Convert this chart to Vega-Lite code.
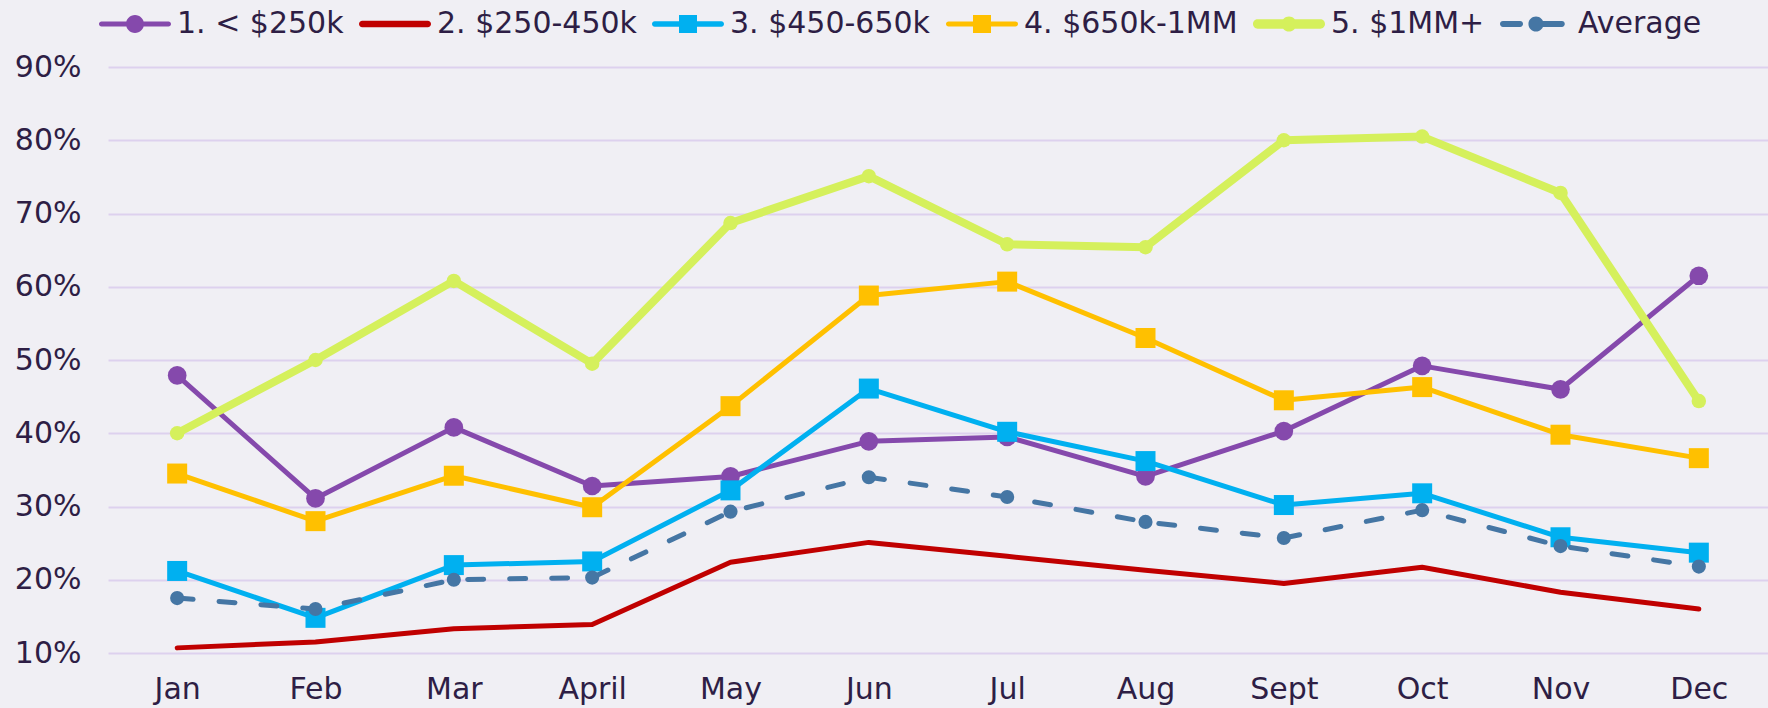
{
  "$schema": "https://vega.github.io/schema/vega-lite/v6.json",
  "autosize": "none",
  "width": 1660,
  "height": 586,
  "padding": {"left": 108, "top": 67, "right": 0, "bottom": 55},
  "background": "#f0eff4",
  "data": {"values": [
    {"m":"Jan","s":"1. < $250k","v":0.479},{"m":"Feb","s":"1. < $250k","v":0.311},{"m":"Mar","s":"1. < $250k","v":0.408},{"m":"April","s":"1. < $250k","v":0.328},{"m":"May","s":"1. < $250k","v":0.341},{"m":"Jun","s":"1. < $250k","v":0.389},{"m":"Jul","s":"1. < $250k","v":0.395},{"m":"Aug","s":"1. < $250k","v":0.341},{"m":"Sept","s":"1. < $250k","v":0.403},{"m":"Oct","s":"1. < $250k","v":0.492},{"m":"Nov","s":"1. < $250k","v":0.460},{"m":"Dec","s":"1. < $250k","v":0.615},
    {"m":"Jan","s":"2. $250-450k","v":0.107},{"m":"Feb","s":"2. $250-450k","v":0.115},{"m":"Mar","s":"2. $250-450k","v":0.133},{"m":"April","s":"2. $250-450k","v":0.139},{"m":"May","s":"2. $250-450k","v":0.224},{"m":"Jun","s":"2. $250-450k","v":0.251},{"m":"Jul","s":"2. $250-450k","v":0.232},{"m":"Aug","s":"2. $250-450k","v":0.213},{"m":"Sept","s":"2. $250-450k","v":0.195},{"m":"Oct","s":"2. $250-450k","v":0.217},{"m":"Nov","s":"2. $250-450k","v":0.183},{"m":"Dec","s":"2. $250-450k","v":0.160},
    {"m":"Jan","s":"3. $450-650k","v":0.212},{"m":"Feb","s":"3. $450-650k","v":0.148},{"m":"Mar","s":"3. $450-650k","v":0.220},{"m":"April","s":"3. $450-650k","v":0.225},{"m":"May","s":"3. $450-650k","v":0.322},{"m":"Jun","s":"3. $450-650k","v":0.461},{"m":"Jul","s":"3. $450-650k","v":0.402},{"m":"Aug","s":"3. $450-650k","v":0.362},{"m":"Sept","s":"3. $450-650k","v":0.302},{"m":"Oct","s":"3. $450-650k","v":0.318},{"m":"Nov","s":"3. $450-650k","v":0.258},{"m":"Dec","s":"3. $450-650k","v":0.237},
    {"m":"Jan","s":"4. $650k-1MM","v":0.345},{"m":"Feb","s":"4. $650k-1MM","v":0.280},{"m":"Mar","s":"4. $650k-1MM","v":0.342},{"m":"April","s":"4. $650k-1MM","v":0.299},{"m":"May","s":"4. $650k-1MM","v":0.437},{"m":"Jun","s":"4. $650k-1MM","v":0.588},{"m":"Jul","s":"4. $650k-1MM","v":0.607},{"m":"Aug","s":"4. $650k-1MM","v":0.530},{"m":"Sept","s":"4. $650k-1MM","v":0.445},{"m":"Oct","s":"4. $650k-1MM","v":0.463},{"m":"Nov","s":"4. $650k-1MM","v":0.398},{"m":"Dec","s":"4. $650k-1MM","v":0.366},
    {"m":"Jan","s":"5. $1MM+","v":0.400},{"m":"Feb","s":"5. $1MM+","v":0.500},{"m":"Mar","s":"5. $1MM+","v":0.608},{"m":"April","s":"5. $1MM+","v":0.495},{"m":"May","s":"5. $1MM+","v":0.687},{"m":"Jun","s":"5. $1MM+","v":0.751},{"m":"Jul","s":"5. $1MM+","v":0.658},{"m":"Aug","s":"5. $1MM+","v":0.654},{"m":"Sept","s":"5. $1MM+","v":0.800},{"m":"Oct","s":"5. $1MM+","v":0.805},{"m":"Nov","s":"5. $1MM+","v":0.728},{"m":"Dec","s":"5. $1MM+","v":0.444},
    {"m":"Jan","s":"Average","v":0.175},{"m":"Feb","s":"Average","v":0.160},{"m":"Mar","s":"Average","v":0.200},{"m":"April","s":"Average","v":0.203},{"m":"May","s":"Average","v":0.293},{"m":"Jun","s":"Average","v":0.340},{"m":"Jul","s":"Average","v":0.313},{"m":"Aug","s":"Average","v":0.279},{"m":"Sept","s":"Average","v":0.257},{"m":"Oct","s":"Average","v":0.295},{"m":"Nov","s":"Average","v":0.246},{"m":"Dec","s":"Average","v":0.218}
  ]},
  "encoding": {
    "x": {"field": "m", "type": "nominal", "sort": ["Jan","Feb","Mar","April","May","Jun","Jul","Aug","Sept","Oct","Nov","Dec"],
      "axis": {"title": null, "domain": false, "ticks": false, "grid": false, "labelAngle": 0, "labelFont": "DejaVu Sans", "labelFontSize": 30, "labelColor": "#2e1e45", "labelPadding": 21}},
    "y": {"field": "v", "type": "quantitative", "scale": {"domain": [0.1, 0.9], "nice": false, "zero": false},
      "axis": {"title": null, "domain": false, "ticks": false, "values": [0.1,0.2,0.3,0.4,0.5,0.6,0.7,0.8,0.9], "format": ".0%", "labelFont": "DejaVu Sans", "labelFontSize": 30, "labelColor": "#2e1e45", "labelPadding": 27, "gridColor": "#ddd1ee", "gridWidth": 2}},
    "color": {"field": "s", "type": "nominal",
      "scale": {"domain": ["1. < $250k","2. $250-450k","3. $450-650k","4. $650k-1MM","5. $1MM+","Average"], "range": ["#8549ac","#c00000","#00b0f0","#ffc000","#d5f05c","#4576a4"]},
      "legend": null}
  },
  "layer": [
    {"mark": {"type": "point", "filled": true, "opacity": 0},
     "encoding": {
       "color": {"field": "s", "type": "nominal",
         "scale": {"domain": ["1. < $250k","2. $250-450k","3. $450-650k","4. $650k-1MM","5. $1MM+","Average"], "range": ["#8549ac","#c00000","#00b0f0","#ffc000","#d5f05c","#4576a4"]},
         "legend": {"orient": "none", "legendX": -9, "legendY": -79, "direction": "horizontal", "columns": 6, "title": null, "symbolSize": 5184, "symbolStrokeWidth": 0, "symbolOpacity": 1, "labelFont": "DejaVu Sans", "labelFontSize": 30, "labelColor": "#2e1e45", "labelOffset": 6, "columnPadding": 15, "padding": 0, "labelLimit": 0}},
       "shape": {"field": "s", "type": "nominal",
         "scale": {"domain": ["1. < $250k","2. $250-450k","3. $450-650k","4. $650k-1MM","5. $1MM+","Average"],
           "range": [
             "M-0.93,-0.07H0.93A0.07,0.07,0,0,1,0.93,0.07H-0.93A0.07,0.07,0,0,1,-0.93,-0.07Z M0.25,0A0.25,0.25,0,1,1,-0.25,0A0.25,0.25,0,1,1,0.25,0Z",
             "M-0.91,-0.09H0.91A0.09,0.09,0,0,1,0.91,0.09H-0.91A0.09,0.09,0,0,1,-0.91,-0.09Z",
             "M-0.925,-0.075H0.925A0.075,0.075,0,0,1,0.925,0.075H-0.925A0.075,0.075,0,0,1,-0.925,-0.075Z M-0.25,-0.25H0.25V0.25H-0.25Z",
             "M-0.93,-0.07H0.93A0.07,0.07,0,0,1,0.93,0.07H-0.93A0.07,0.07,0,0,1,-0.93,-0.07Z M-0.25,-0.25H0.25V0.25H-0.25Z",
             "M-0.87,-0.13H0.87A0.13,0.13,0,0,1,0.87,0.13H-0.87A0.13,0.13,0,0,1,-0.87,-0.13Z M0.21,0A0.21,0.21,0,1,1,-0.21,0A0.21,0.21,0,1,1,0.21,0Z",
             "M-0.92,-0.08H-0.44A0.08,0.08,0,0,1,-0.44,0.08H-0.92A0.08,0.08,0,0,1,-0.92,-0.08Z M-0.06,-0.08H0.72A0.08,0.08,0,0,1,0.72,0.08H-0.06Z M0.21,0A0.21,0.21,0,1,1,-0.21,0A0.21,0.21,0,1,1,0.21,0Z"
           ]},
         "legend": {"orient": "none", "legendX": -9, "legendY": -79, "direction": "horizontal", "columns": 6, "title": null, "symbolSize": 5184, "symbolStrokeWidth": 0, "symbolOpacity": 1, "labelFont": "DejaVu Sans", "labelFontSize": 30, "labelColor": "#2e1e45", "labelOffset": 6, "columnPadding": 15, "padding": 0, "labelLimit": 0}}
     }},
    {"transform": [{"filter": {"field": "s", "oneOf": ["1. < $250k","2. $250-450k","3. $450-650k","4. $650k-1MM"]}}],
     "mark": {"type": "line", "strokeWidth": 5, "strokeCap": "round", "strokeJoin": "round"}},
    {"transform": [{"filter": {"field": "s", "equal": "1. < $250k"}}],
     "mark": {"type": "point", "shape": "circle", "filled": true, "size": 350, "opacity": 1}},
    {"transform": [{"filter": {"field": "s", "oneOf": ["3. $450-650k","4. $650k-1MM"]}}],
     "mark": {"type": "point", "shape": "square", "filled": true, "size": 400, "opacity": 1}},
    {"transform": [{"filter": {"field": "s", "equal": "5. $1MM+"}}],
     "mark": {"type": "line", "strokeWidth": 8, "strokeCap": "round", "strokeJoin": "round"}},
    {"transform": [{"filter": {"field": "s", "equal": "5. $1MM+"}}],
     "mark": {"type": "point", "shape": "circle", "filled": true, "size": 210, "opacity": 1}},
    {"transform": [{"filter": {"field": "s", "equal": "Average"}}],
     "mark": {"type": "line", "strokeWidth": 5, "strokeCap": "round", "strokeJoin": "round", "strokeDash": [16, 26]}},
    {"transform": [{"filter": {"field": "s", "equal": "Average"}}],
     "mark": {"type": "point", "shape": "circle", "filled": true, "size": 200, "opacity": 1}}
  ],
  "config": {"view": {"stroke": null}, "font": "DejaVu Sans"}
}
